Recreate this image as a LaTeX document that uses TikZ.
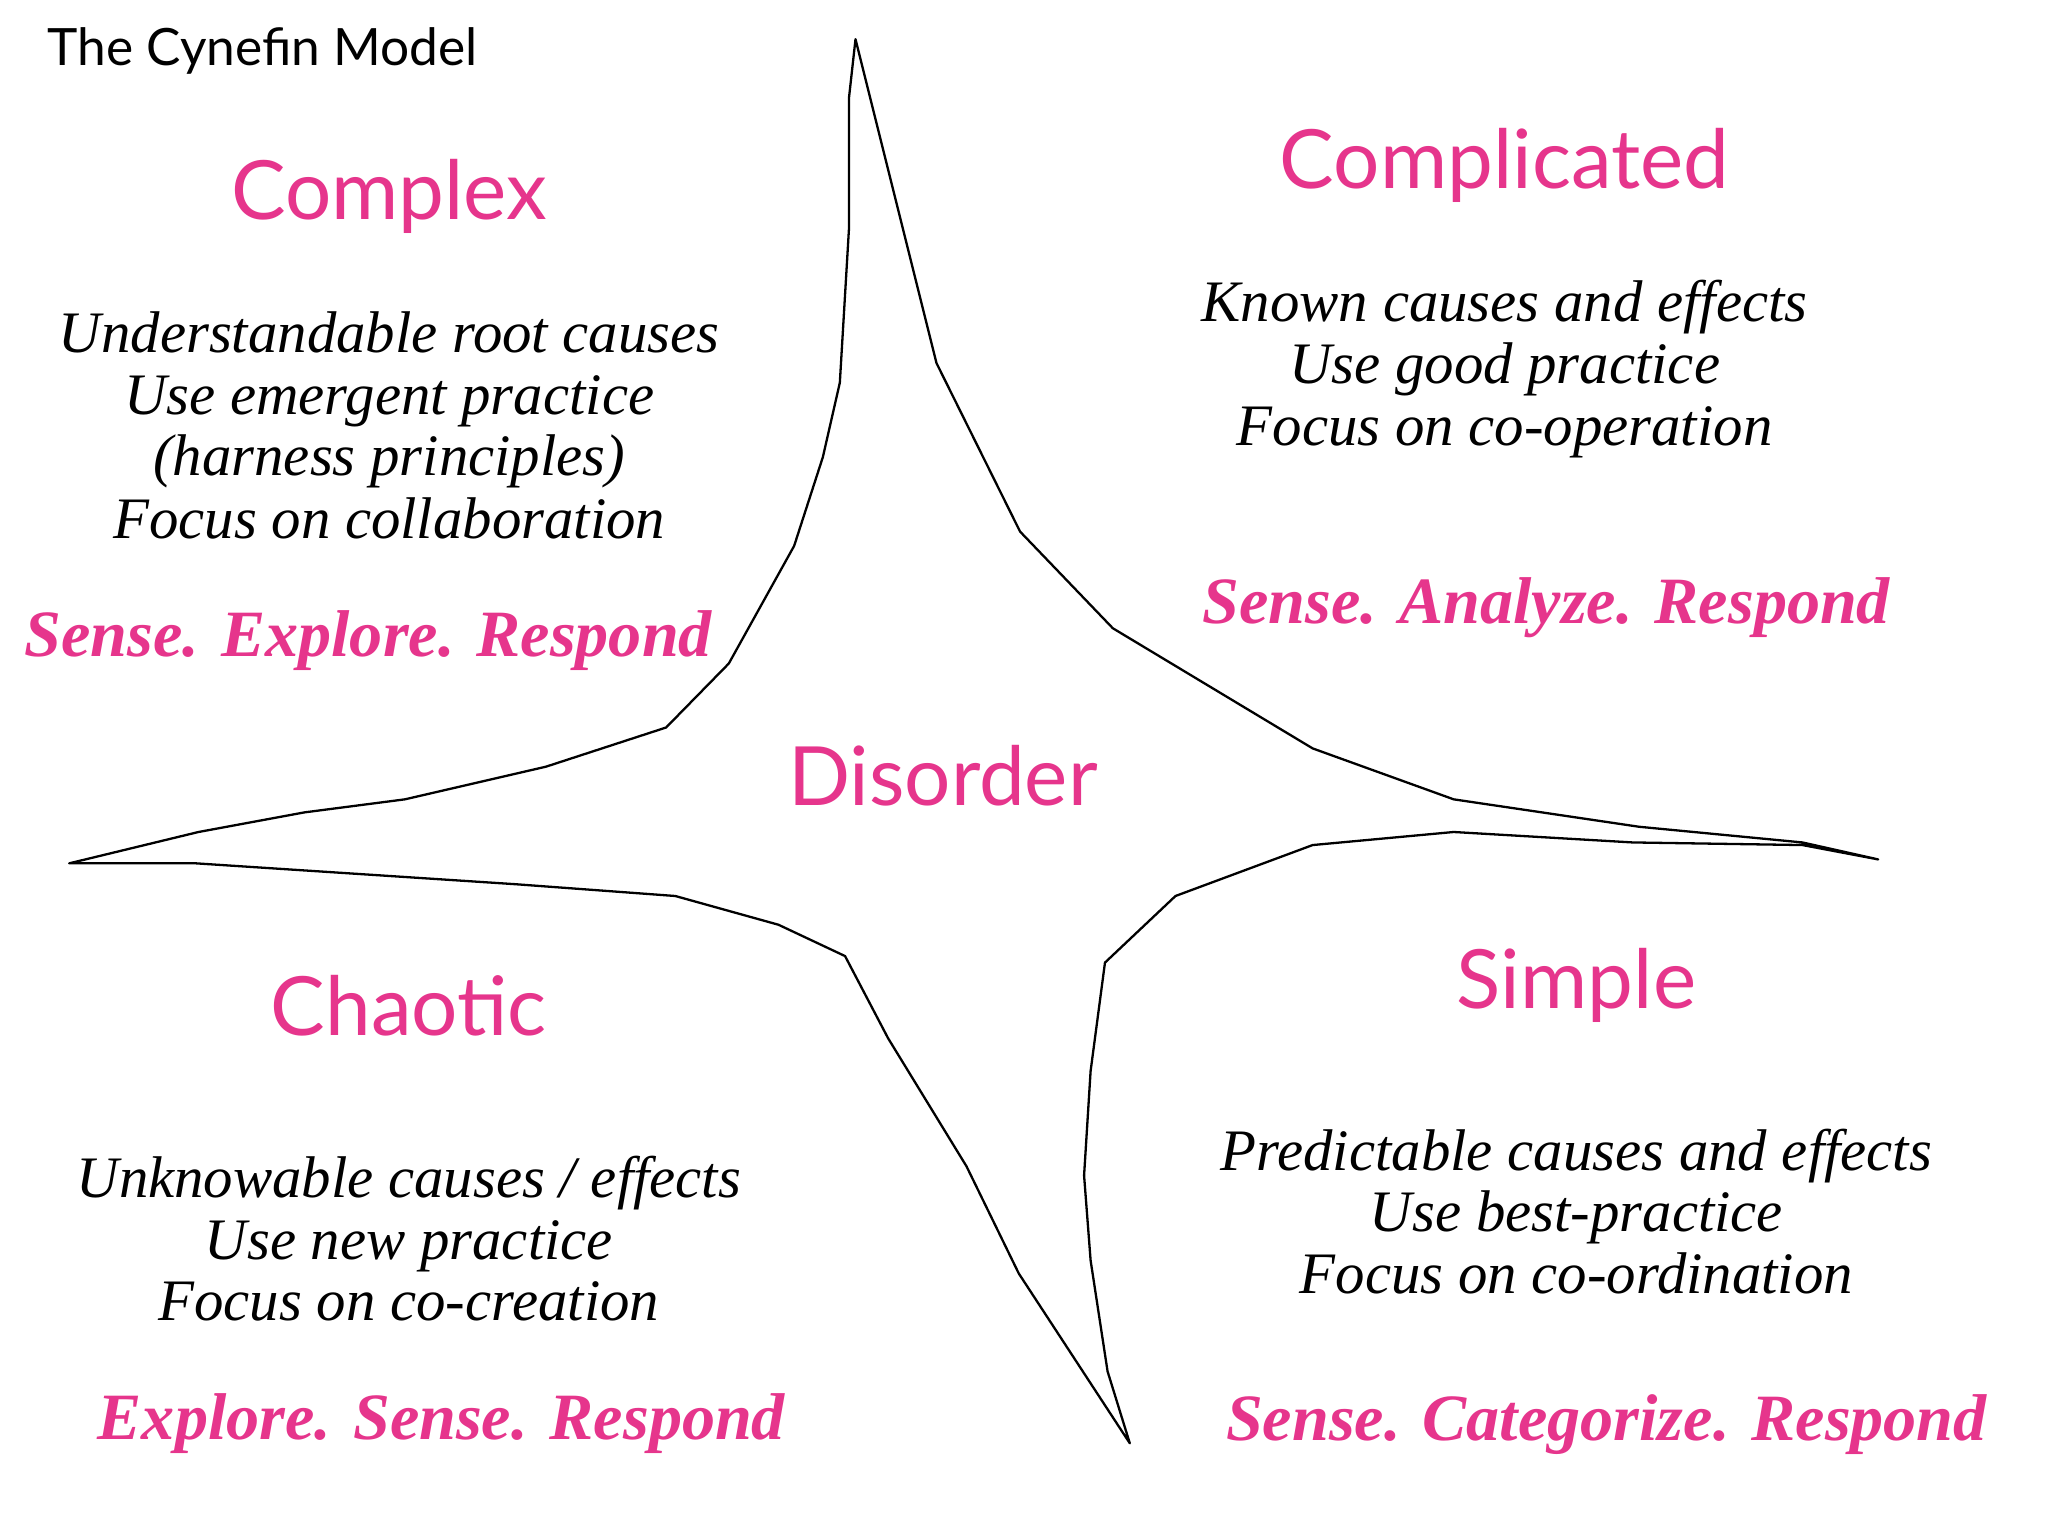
\documentclass[tikz,border=0pt]{standalone}
\usepackage{fontspec}
\setmainfont{Liberation Serif}
\newfontfamily\hd{Lato}
\definecolor{pk}{HTML}{E6358C}
\begin{document}
\begin{tikzpicture}[x=0.01cm,y=-0.01cm,
 head/.style={text=pk,font=\hd\fontsize{17.8}{20}\selectfont,anchor=base},
 body/.style={font=\itshape\fontsize{12.8}{15}\selectfont,align=center,anchor=base},
 act/.style={text=pk,font=\bfseries\itshape\fontsize{14.4}{17}\selectfont,anchor=base}]
\useasboundingbox[fill=white] (0,0) rectangle (1568,1176);
\node[font=\hd\fontsize{11.2}{13}\selectfont,anchor=base west] (t) at (24,50) {The Cynefin Model};
\draw[line width=0.5pt,line join=round] (655,30) -- (650,75) -- (650,175) -- (643,293) -- (630,350) -- (608,418) -- (558,508) -- (510,557) -- (418,587) -- (310,612) -- (233,622) -- (152,637) -- (53,661)
 -- (150,661) -- (395,677) -- (517,686) -- (596,708) -- (647,732) -- (680,795) -- (740,893) -- (780,975) -- (865,1105)
 -- (848,1050) -- (835,965) -- (830,900) -- (835,820) -- (846,737) -- (900,686) -- (1005,647) -- (1113,637) -- (1250,645) -- (1380,647) -- (1438,658)
 -- (1380,645) -- (1255,633) -- (1113,612) -- (1005,573) -- (852,481) -- (781,407) -- (717,278) -- cycle;
\node[head] (cx) at (298,168) {Complex};
\node[head] (cd) at (1152,144) {Complicated};
\node[head] (ds) at (722,617) {Disorder};
\node[head] (ch) at (313,793) {Chaotic};
\node[head] (sp) at (1207,772) {Simple};
\foreach \n/\x/\y/\s in {a1/298/270/Understandable root causes,a2/298/317/Use emergent practice,a3/298/364/(harness principles),a4/298/412/Focus on collaboration,
 b1/1152/246/Known causes and effects,b2/1152/294/Use good practice,b3/1152/341/Focus on co-operation,
 c1/313/917/{Unknowable causes / effects},c2/313/964/Use new practice,c3/313/1011/Focus on co-creation,
 d1/1207/896/Predictable causes and effects,d2/1207/943/Use best-practice,d3/1207/990/Focus on co-ordination}
 \node[body] (\n) at (\x,\y) {\s};
\node[act] (ea) at (282,503) {Sense. Explore. Respond};
\node[act] (eb) at (1184,477) {Sense. Analyze. Respond};
\node[act] (ec) at (338,1102) {Explore. Sense. Respond};
\node[act] (ed) at (1230,1103) {Sense. Categorize. Respond};
\end{tikzpicture}
\end{document}
